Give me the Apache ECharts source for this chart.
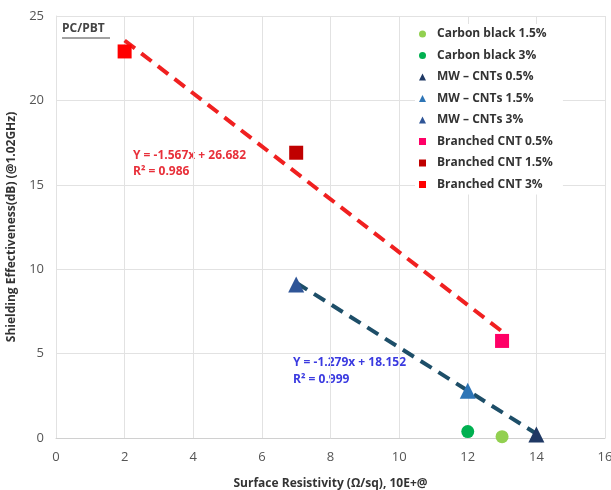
<!DOCTYPE html>
<html><head><meta charset="utf-8">
<script src="https://cdn.jsdelivr.net/npm/echarts@6/dist/echarts.min.js"></script>
<style>html,body{margin:0;padding:0;background:#fff}#c{width:611px;height:490px}</style>
</head><body><div id="c"></div>
<script>
const xTicks = [0, 2, 4, 6, 8, 10, 12, 14, 16];
const yTicks = [0, 5, 10, 15, 20, 25];
const carbonBlack15 = [[13, 0.08]];
const carbonBlack3 = [[12, 0.38]];
const mw05 = [[14, 0.2]];
const mw15 = [[12, 2.8]];
const mw3 = [[7, 9.1]];
const branched05 = [[13, 5.75]];
const branched15 = [[7, 16.9]];
const branched3 = [[2, 22.9]];
const redTrend = [[2, 23.55], [13, 6.31]];
const blueTrend = [[7, 9.2], [14, 0.25]];
const seriesNames = ['Carbon black 1.5%', 'Carbon black 3%', 'MW – CNTs 0.5%', 'MW – CNTs 1.5%', 'MW – CNTs 3%', 'Branched CNT 0.5%', 'Branched CNT 1.5%', 'Branched CNT 3%'];
const seriesData = [carbonBlack15, carbonBlack3, mw05, mw15, mw3, branched05, branched15, branched3];
const seriesColors = ['#92d050', '#00b050', '#1f3864', '#2e75b6', '#2f5597', '#ff0066', '#c00000', '#ff0000'];
const seriesSymbols = ['circle', 'circle', 'triangle', 'triangle', 'triangle', 'rect', 'rect', 'rect'];
const seriesSizes = [13, 13, 16, 16, 16, 14, 14, 14];

const font = 'Open Sans, Noto Sans, sans-serif';
const chart = echarts.init(document.getElementById('c'));
const series = [
  {type: 'line', data: redTrend, symbol: 'none', silent: true, z: 1,
   lineStyle: {color: '#f02020', width: 4, type: [13, 8]}},
  {type: 'line', data: blueTrend, symbol: 'none', silent: true, z: 1,
   lineStyle: {color: '#1d4e68', width: 4, type: [13, 8]}}
];
seriesNames.forEach((n, i) => series.push({
  type: 'scatter', name: n, data: seriesData[i], symbol: seriesSymbols[i],
  symbolSize: seriesSizes[i], itemStyle: {color: seriesColors[i], opacity: 1}, z: 3
}));
chart.setOption({
  animation: false,
  grid: {left: 56, right: 6, top: 16, bottom: 52, containLabel: false, outerBoundsMode: 'none'},
  xAxis: {type: 'value', min: 0, max: 16, interval: 2,
    name: 'Surface Resistivity (Ω/sq), 10E+@', nameLocation: 'middle', nameGap: 40,
    nameTextStyle: {fontWeight: 'bold', fontSize: 12, color: '#333', fontFamily: font},
    axisLine: {lineStyle: {color: '#d0d0d0'}}, axisTick: {show: false},
    axisLabel: {color: '#555', fontSize: 13, margin: 13, fontFamily: font},
    splitLine: {show: true, lineStyle: {color: '#e2e2e2'}}},
  yAxis: {type: 'value', min: 0, max: 25, interval: 5,
    name: 'Shielding Effectiveness(dB) (@1.02GHz)', nameLocation: 'middle', nameGap: 38,
    nameTextStyle: {fontWeight: 'bold', fontSize: 12, color: '#333', fontFamily: font},
    axisLine: {show: true, lineStyle: {color: '#e2e2e2'}}, axisTick: {show: false},
    axisLabel: {color: '#555', fontSize: 13, margin: 12, fontFamily: font},
    splitLine: {show: true, lineStyle: {color: '#e2e2e2'}}},
  legend: {data: seriesNames, orient: 'vertical', left: 415, top: 24, itemGap: 9.5,
    itemWidth: 7, itemHeight: 7, backgroundColor: '#fff', padding: [4, 10, 4, 4],
    textStyle: {fontWeight: 'bold', fontSize: 12, color: '#333', fontFamily: font, padding: [0, 0, 0, 6]}},
  graphic: [
    {type: 'text', left: 62, top: 23, style: {text: 'PC/PBT', font: 'bold 12px ' + font, fill: '#444'}},
    {type: 'line', shape: {x1: 62, y1: 38, x2: 110, y2: 38}, style: {stroke: '#444', lineWidth: 1}},
    {type: 'text', left: 133, top: 148, style: {text: 'Y = -1.567x + 26.682\nR² = 0.986', font: 'bold 12px ' + font, fill: '#e8303a', lineHeight: 16}},
    {type: 'text', left: 293, top: 354, style: {text: 'Y = -1.279x + 18.152\nR² = 0.999', font: 'bold 12px ' + font, fill: '#3a3ae0', lineHeight: 17}}
  ],
  series: series
});
</script>
</body></html>
